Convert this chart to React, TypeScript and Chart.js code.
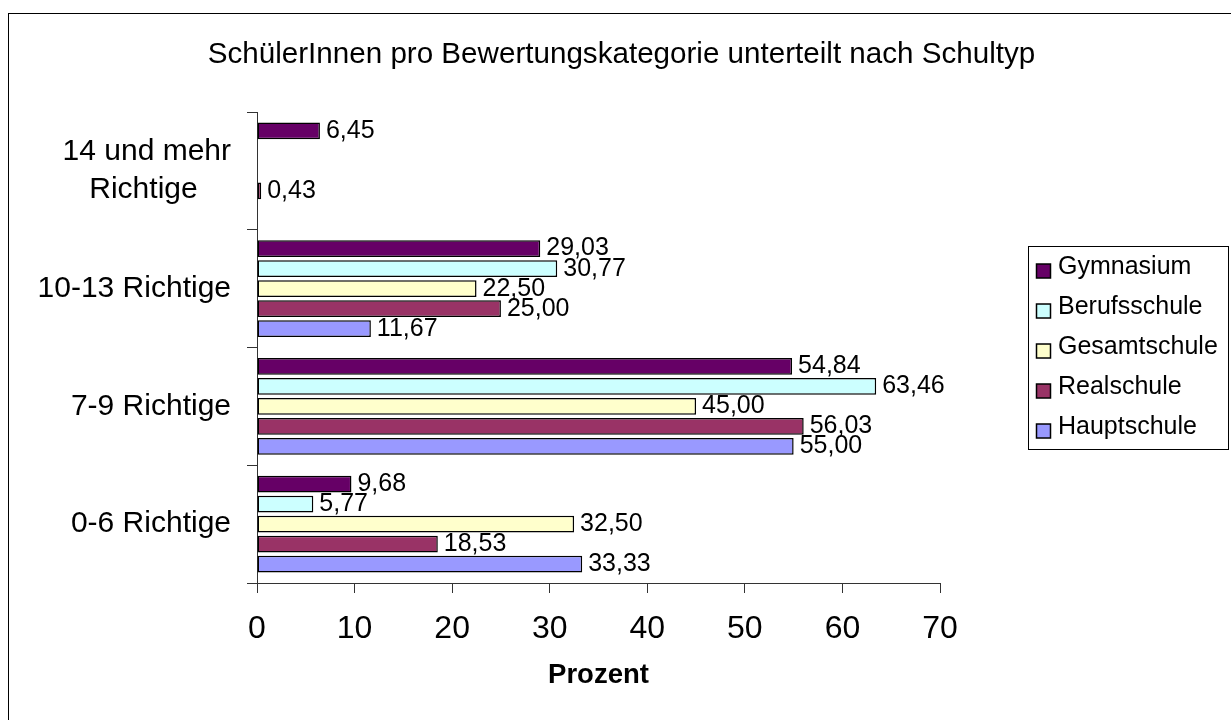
import React, { useEffect, useRef } from "react";
import { Chart, registerables } from "chart.js";

Chart.register(...registerables);

// ---- Data ----
const categories: (string | string[])[] = [
  ["14 und mehr", "Richtige    "],
  "10-13 Richtige",
  "7-9 Richtige",
  "0-6 Richtige",
];
const seriesNames = ["Gymnasium", "Berufsschule", "Gesamtschule", "Realschule", "Hauptschule"];
const gymnasium = [6.45, 29.03, 54.84, 9.68];
const berufsschule = [null, 30.77, 63.46, 5.77];
const gesamtschule = [null, 22.5, 45.0, 32.5];
const realschule = [0.43, 25.0, 56.03, 18.53];
const hauptschule = [null, 11.67, 55.0, 33.33];
const seriesColors = ["#660066", "#CCFFFF", "#FFFFCC", "#993366", "#9999FF"];
const xMin = 0;
const xMax = 70;
const xStep = 10;
const titleText = "SchülerInnen pro Bewertungskategorie unterteilt nach Schultyp";
const xAxisTitle = "Prozent";

const FONT = "'Liberation Sans', Arial, Helvetica, sans-serif";

const fmt = (v: number) => v.toFixed(2).replace(".", ",");

const valueLabelPlugin = {
  id: "valueLabels",
  afterDatasetsDraw(chart: any) {
    const ctx = chart.ctx;
    ctx.save();
    ctx.font = `25px ${FONT}`;
    ctx.fillStyle = "#000";
    ctx.textAlign = "left";
    ctx.textBaseline = "middle";
    chart.data.datasets.forEach((ds: any, di: number) => {
      const meta = chart.getDatasetMeta(di);
      meta.data.forEach((el: any, i: number) => {
        const v = ds.data[i];
        if (v === null || v === undefined) return;
        ctx.fillText(fmt(v), el.x + 6, el.y);
      });
    });
    ctx.restore();
  },
};

const boxLegendPlugin = {
  id: "boxLegend",
  afterLayout(chart: any) {
    if (chart.titleBlock) {
      chart.titleBlock.left = 12;
      chart.titleBlock.right = chart.width;
      chart.titleBlock.width = chart.width - 12;
    }
  },
  afterDraw(chart: any) {
    const ctx = chart.ctx;
    const area = chart.chartArea;
    const bx = area.right + 87.5;
    const by = (area.top + area.bottom) / 2 - 101.5;
    const bw = 200;
    const bh = 203;
    ctx.save();
    ctx.strokeStyle = "#000";
    ctx.lineWidth = 1;
    ctx.strokeRect(Math.round(bx) + 0.5, Math.round(by) + 0.5, bw, bh);
    ctx.font = `25px ${FONT}`;
    ctx.textAlign = "left";
    ctx.textBaseline = "middle";
    chart.data.datasets.forEach((ds: any, i: number) => {
      const cy = by + 21.5 + 40 * i;
      const mx = bx + 9;
      ctx.fillStyle = ds.backgroundColor;
      ctx.fillRect(mx, cy - 3.5, 14, 14);
      ctx.lineWidth = 1.5;
      ctx.strokeStyle = "#000";
      ctx.strokeRect(mx, cy - 3.5, 14, 14);
      ctx.fillStyle = "#000";
      ctx.fillText(ds.label, bx + 30.5, cy);
    });
    ctx.restore();
  },
};

export default function App() {
  const canvasRef = useRef<HTMLCanvasElement | null>(null);

  useEffect(() => {
    if (!canvasRef.current) return;
    const seriesData = [gymnasium, berufsschule, gesamtschule, realschule, hauptschule];
    const chart = new Chart(canvasRef.current, {
      type: "bar",
      data: {
        labels: categories as any,
        datasets: seriesNames.map((name, i) => ({
          label: name,
          data: seriesData[i] as any,
          backgroundColor: seriesColors[i],
          borderColor: "#000",
          borderWidth: 1.5,
          borderSkipped: false,
          categoryPercentage: 0.85,
          barPercentage: 0.84,
        })),
      },
      options: {
        indexAxis: "y",
        responsive: false,
        animation: false,
        layout: { padding: { top: 0, right: 291, bottom: 0, left: 0 } },
        plugins: {
          legend: { display: false },
          tooltip: { enabled: false },
          title: {
            display: true,
            text: titleText,
            color: "#000",
            font: { family: FONT, size: 29.6, weight: "normal" },
            padding: { top: 37, bottom: 39.5 },
          },
        },
        scales: {
          x: {
            type: "linear",
            min: xMin,
            max: xMax,
            ticks: {
              stepSize: xStep,
              color: "#000",
              font: { family: FONT, size: 32 },
              padding: 17,
              maxRotation: 0,
            },
            grid: { drawOnChartArea: false, tickLength: 10, color: "#333" },
            border: { color: "#333" },
            title: {
              display: true,
              text: xAxisTitle,
              color: "#000",
              font: { family: FONT, size: 27.5, weight: "bold" },
              padding: { top: 0, bottom: 28.5 },
            },
            afterFit: (s: any) => {
              s.height = 137;
            },
          },
          y: {
            type: "category",
            ticks: {
              color: "#000",
              font: { family: FONT, size: 30, lineHeight: 1.27 },
              padding: 16,
            },
            grid: { drawOnChartArea: false, tickLength: 10, color: "#333", offset: true },
            border: { color: "#333" },
            afterFit: (s: any) => {
              s.width = 257;
            },
          },
        },
      } as any,
      plugins: [valueLabelPlugin, boxLegendPlugin],
    });
    return () => chart.destroy();
  }, []);

  return (
    <div>
      <div
        style={{
          position: "absolute",
          left: 8,
          top: 13,
          width: 1231 - 8,
          height: 720 - 13,
          boxSizing: "border-box",
          borderLeft: "1px solid #000",
          borderTop: "1px solid #000",
        }}
      />
      <canvas
        ref={canvasRef}
        width={1231}
        height={720}
        style={{ position: "absolute", left: 0, top: 0, width: 1231, height: 720 }}
      />
    </div>
  );
}
